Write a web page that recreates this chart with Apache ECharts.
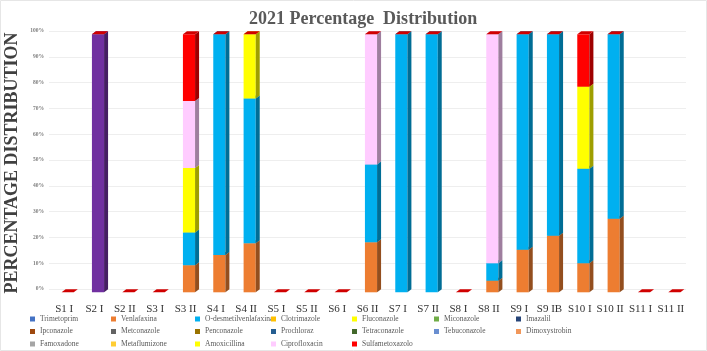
<!DOCTYPE html>
<html>
<head>
<meta charset="utf-8">
<script src="https://cdn.jsdelivr.net/npm/echarts@6/dist/echarts.min.js"></script>
<style>
  html, body { margin: 0; padding: 0; background: #fff; }
  #chart { width: 707px; height: 351px; }
</style>
</head>
<body>
<div id="chart"></div>
<script>
const categories = ['S1 I', 'S2 I', 'S2 II', 'S3 I', 'S3 II', 'S4 I', 'S4 II', 'S5 I', 'S5 II', 'S6 I', 'S6 II',
  'S7 I', 'S7 II', 'S8 I', 'S8 II', 'S9 I', 'S9 IB', 'S10 I', 'S10 II', 'S11 I', 'S11 II'];

// percentages per sample
//                    S1 S2I S2II S3I S3II S4I S4II S5I S5II S6I S6II S7I S7II S8I S8II S9I S9IB S10I S10II S11I S11II
const trimetoprim   = [0, 0, 0, 0, 0, 0, 0, 0, 0, 0, 0, 0, 0, 0, 0, 0, 0, 0, 0, 0, 0];
const venlafaxina   = [0, 0, 0, 0, 10.5, 14.5, 19, 0, 0, 0, 19.4, 0, 0, 0, 4.5, 16.5, 21.9, 11.3, 28.5, 0, 0];
const odesmetil     = [0, 0, 0, 0, 12.7, 85.5, 56.1, 0, 0, 0, 30.1, 100, 100, 0, 6.8, 83.5, 78.1, 36.6, 71.5, 0, 0];
const clotrimazole  = [0, 0, 0, 0, 0, 0, 0, 0, 0, 0, 0, 0, 0, 0, 0, 0, 0, 0, 0, 0, 0];
const fluconazole   = [0, 0, 0, 0, 0, 0, 0, 0, 0, 0, 0, 0, 0, 0, 0, 0, 0, 0, 0, 0, 0];
const miconazole    = [0, 0, 0, 0, 0, 0, 0, 0, 0, 0, 0, 0, 0, 0, 0, 0, 0, 0, 0, 0, 0];
const imazalil      = [0, 0, 0, 0, 0, 0, 0, 0, 0, 0, 0, 0, 0, 0, 0, 0, 0, 0, 0, 0, 0];
const ipconazole    = [0, 0, 0, 0, 0, 0, 0, 0, 0, 0, 0, 0, 0, 0, 0, 0, 0, 0, 0, 0, 0];
const metconazole   = [0, 0, 0, 0, 0, 0, 0, 0, 0, 0, 0, 0, 0, 0, 0, 0, 0, 0, 0, 0, 0];
const penconazole   = [0, 0, 0, 0, 0, 0, 0, 0, 0, 0, 0, 0, 0, 0, 0, 0, 0, 0, 0, 0, 0];
const prochloraz    = [0, 0, 0, 0, 0, 0, 0, 0, 0, 0, 0, 0, 0, 0, 0, 0, 0, 0, 0, 0, 0];
const tetraconazole = [0, 0, 0, 0, 0, 0, 0, 0, 0, 0, 0, 0, 0, 0, 0, 0, 0, 0, 0, 0, 0];
const tebuconazole  = [0, 0, 0, 0, 0, 0, 0, 0, 0, 0, 0, 0, 0, 0, 0, 0, 0, 0, 0, 0, 0];
const dimoxystrobin = [0, 0, 0, 0, 0, 0, 0, 0, 0, 0, 0, 0, 0, 0, 0, 0, 0, 0, 0, 0, 0];
const famoxadone    = [0, 0, 0, 0, 0, 0, 0, 0, 0, 0, 0, 0, 0, 0, 0, 0, 0, 0, 0, 0, 0];
const metaflumizone = [0, 0, 0, 0, 0, 0, 0, 0, 0, 0, 0, 0, 0, 0, 0, 0, 0, 0, 0, 0, 0];
const unlabelled    = [0, 100, 0, 0, 0, 0, 0, 0, 0, 0, 0, 0, 0, 0, 0, 0, 0, 0, 0, 0, 0];
const amoxicillina  = [0, 0, 0, 0, 25, 0, 24.9, 0, 0, 0, 0, 0, 0, 0, 0, 0, 0, 31.8, 0, 0, 0];
const ciprofloxacin = [0, 0, 0, 0, 25.9, 0, 0, 0, 0, 0, 50.5, 0, 0, 0, 88.7, 0, 0, 0, 0, 0, 0];
const sulfametox    = [0, 0, 0, 0, 25.9, 0, 0, 0, 0, 0, 0, 0, 0, 0, 0, 0, 0, 20.3, 0, 0, 0];

const yTicks = [0, 10, 20, 30, 40, 50, 60, 70, 80, 90, 100];

const seriesDefs = [
  ['Trimetoprim', trimetoprim, '#4472C4'],
  ['Venlafaxina', venlafaxina, '#ED7D31'],
  ['O-desmetilvenlafaxina', odesmetil, '#00B0F0'],
  ['Clotrimazole', clotrimazole, '#FFC000'],
  ['Fluconazole', fluconazole, '#FFFF00'],
  ['Miconazole', miconazole, '#70AD47'],
  ['Imazalil', imazalil, '#264478'],
  ['Ipconazole', ipconazole, '#9E480E'],
  ['Metconazole', metconazole, '#636363'],
  ['Penconazole', penconazole, '#997300'],
  ['Prochloraz', prochloraz, '#255E91'],
  ['Tetraconazole', tetraconazole, '#43682B'],
  ['Tebuconazole', tebuconazole, '#698ED0'],
  ['Dimoxystrobin', dimoxystrobin, '#F1975A'],
  ['Famoxadone', famoxadone, '#A5A5A5'],
  ['Metaflumizone', metaflumizone, '#FFCD33'],
  ['Other', unlabelled, '#7030A0'],
  ['Amoxicillina', amoxicillina, '#FFFF00'],
  ['Ciprofloxacin', ciprofloxacin, '#FFCCFF'],
  ['Sulfametoxazolo', sulfametox, '#FF0000']
];

const legendCols = [
  ['Trimetoprim', 'Ipconazole', 'Famoxadone'],
  ['Venlafaxina', 'Metconazole', 'Metaflumizone'],
  ['O-desmetilvenlafaxina', 'Penconazole', 'Amoxicillina'],
  ['Clotrimazole', 'Prochloraz', 'Ciprofloxacin'],
  ['Fluconazole', 'Tetraconazole', 'Sulfametoxazolo'],
  ['Miconazole', 'Tebuconazole'],
  ['Imazalil', 'Dimoxystrobin']
];
const legendX = [30, 111, 195, 271, 352, 434, 516];

function shade(hex, f) {
  const n = parseInt(hex.slice(1), 16);
  const r = Math.round(((n >> 16) & 255) * f);
  const g = Math.round(((n >> 8) & 255) * f);
  const b = Math.round((n & 255) * f);
  return 'rgb(' + r + ',' + g + ',' + b + ')';
}

const chart = echarts.init(document.getElementById('chart'));

const base = categories.map(() => 0);
const lastIdx = seriesDefs.length - 1;
const series = seriesDefs.map(function (def, si) {
  const name = def[0], vals = def[1], color = def[2];
  const data = vals.map(function (v, i) {
    const item = [i, base[i] + v, base[i], v];
    base[i] += v;
    return item;
  });
  return {
    name: name,
    type: 'custom',
    itemStyle: { color: color },
    encode: { x: 0, y: 1 },
    data: data,
    renderItem: function (params, api) {
      const v = api.value(3);
      if (!(v > 0) && si !== lastIdx) return null;
      const cat = api.value(0);
      const p0 = api.coord([cat, api.value(2)]);
      const p1 = api.coord([cat, api.value(1)]);
      const w = api.size([1, 0])[0] * 0.4;
      const dx = 4, dy = 3, drop = 3.3;
      const x0 = p0[0] - w / 2 + 3.5, x1 = x0 + w;
      const yb = p0[1] + drop, yt = p1[1] + drop;
      const kids = [];
      if (v > 0) {
        kids.push({ type: 'rect', shape: { x: x0, y: yt, width: w, height: yb - yt }, style: { fill: color } });
        kids.push({ type: 'polygon', shape: { points: [[x1, yb], [x1 + dx, yb - dy], [x1 + dx, yt - dy], [x1, yt]] },
          style: { fill: shade(color, 0.62) } });
      }
      const cap = si === lastIdx ? '#D00000' : shade(color, 0.85);
      kids.push({ type: 'polygon', shape: { points: [[x0, yt], [x0 + dx, yt - dy], [x1 + dx, yt - dy], [x1, yt]] },
        style: { fill: cap } });
      return { type: 'group', children: kids };
    }
  };
});

const legends = legendCols.map(function (col, k) {
  return {
    data: col,
    orient: 'vertical',
    left: legendX[k],
    top: 314.5,
    height: 60,
    padding: 0,
    itemWidth: 5,
    itemHeight: 5,
    itemGap: 3.5,
    icon: 'rect',
    selectedMode: false,
    textStyle: { fontFamily: 'Liberation Serif', fontSize: 7.5, color: '#595959', lineHeight: 9 }
  };
});

const option = {
  animation: false,
  backgroundColor: '#fff',
  title: {
    text: '2021 Percentage  Distribution',
    left: 244,
    top: 5,
    textStyle: { fontFamily: 'Liberation Serif', fontSize: 18, fontWeight: 'bold', color: '#595959' }
  },
  graphic: [
    {
      type: 'text',
      x: 12,
      y: 163,
      rotation: Math.PI / 2,
      style: {
        text: 'PERCENTAGE DISTRIBUTION',
        fontFamily: 'Liberation Serif',
        fontSize: 18,
        fontWeight: 'bold',
        fill: '#404040',
        align: 'center',
        verticalAlign: 'middle'
      }
    },
    {
      type: 'rect',
      shape: { x: 0.5, y: 0.5, width: 706, height: 350 },
      style: { fill: 'none', stroke: '#e6e6e6', lineWidth: 1 },
      silent: true
    }
  ],
  legend: legends,
  grid: { left: 49, right: 21, top: 31, bottom: 62 },
  xAxis: {
    type: 'category',
    data: categories,
    axisTick: { show: false },
    axisLine: { show: false },
    axisLabel: {
      interval: 0,
      margin: 15,
      fontFamily: 'Liberation Serif',
      fontSize: 11,
      color: '#333333'
    }
  },
  yAxis: {
    type: 'value',
    min: yTicks[0],
    max: yTicks[yTicks.length - 1],
    interval: 10,
    axisLine: { show: false },
    axisTick: { show: false },
    splitLine: { lineStyle: { color: '#eeeeee' } },
    axisLabel: {
      formatter: '{value}%',
      margin: 5,
      fontFamily: 'Liberation Serif',
      fontSize: 5.5,
      fontWeight: 'bold',
      color: '#7f7f7f',
      padding: [6, 0, 0, 0]
    }
  },
  series: series
};

chart.setOption(option);
</script>
</body>
</html>
